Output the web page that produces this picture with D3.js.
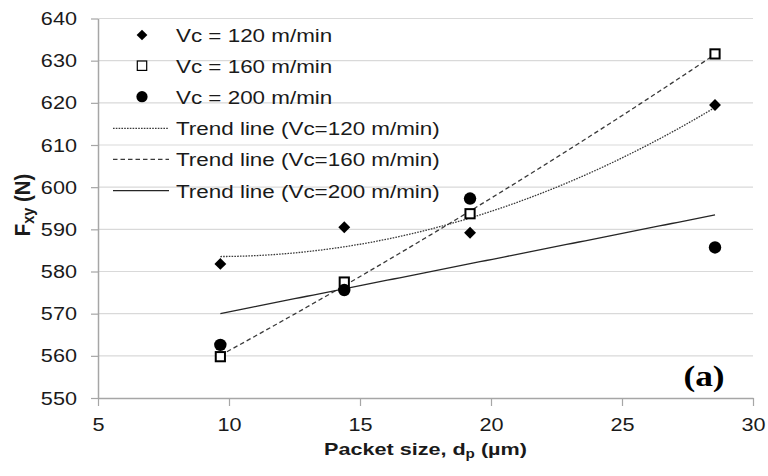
<!DOCTYPE html>
<html>
<head>
<meta charset="utf-8">
<script src="https://cdn.jsdelivr.net/npm/d3@7"></script>
<style>
  body { margin: 0; background: #fff; }
</style>
</head>
<body>
<div id="chart"></div>
<script>
// packet size (um) and cutting force Fxy (N)
var packetSize = [9.67, 14.4, 19.2, 28.55];
var fxy120 = [581.8, 590.5, 589.2, 619.5];
var fxy160 = [559.8, 577.5, 593.7, 631.6];
var fxy200 = [562.6, 575.6, 597.3, 585.7];

var xTicks = [5, 10, 15, 20, 25, 30];
var yTicks = [550, 560, 570, 580, 590, 600, 610, 620, 630, 640];

var seriesNames = ["Vc = 120 m/min", "Vc = 160 m/min", "Vc = 200 m/min"];
var trendNames = ["Trend line (Vc=120 m/min)", "Trend line (Vc=160 m/min)", "Trend line (Vc=200 m/min)"];
var trendOrder = [2, 2, 1];

var width = 768, height = 476;
var font = "'Liberation Sans', Arial, sans-serif";
var textStretch = 1.14;

var svg = d3.select("#chart").append("svg")
    .attr("width", width)
    .attr("height", height);

var x = d3.scaleLinear().domain([5, 30]).range([98, 753]);
var y = d3.scaleLinear().domain([550, 640]).range([398, 18.5]);

//------------------------------helpers--------------------------
// least squares polynomial fit, returns coefficients c0..cn
function polyFit(xs, ys, order) {
    var n = order + 1, A = [], i, j, k;
    for(i = 0; i < n; i++) {
        A.push([]);
        for(j = 0; j <= n; j++) A[i].push(0);
    }
    xs.forEach(function(xv, p) {
        for(i = 0; i < n; i++) {
            for(j = 0; j < n; j++) A[i][j] += Math.pow(xv, i + j);
            A[i][n] += Math.pow(xv, i) * ys[p];
        }
    });
    for(i = 0; i < n; i++) {
        for(k = i + 1; k < n; k++) {
            var f = A[k][i] / A[i][i];
            for(j = i; j <= n; j++) A[k][j] -= f * A[i][j];
        }
    }
    var c = new Array(n);
    for(i = n - 1; i >= 0; i--) {
        var s = A[i][n];
        for(j = i + 1; j < n; j++) s -= A[i][j] * c[j];
        c[i] = s / A[i][i];
    }
    return c;
}

function polyVal(c, xv) {
    var s = 0;
    for(var i = 0; i < c.length; i++) s += c[i] * Math.pow(xv, i);
    return s;
}

// the picture's text is a bit wider than plain Arial
function stretch(sel, k) {
    sel.each(function() {
        var t = d3.select(this);
        var tx = +t.attr("x") || 0, ty = +t.attr("y") || 0;
        t.attr("x", 0).attr("y", 0)
            .attr("transform", "translate(" + tx + "," + ty + ") scale(" + k + ",1)");
    });
}

//------------------------------grid + axes--------------------------
svg.append("g").selectAll("line")
    .data(yTicks.slice(1))
    .enter().append("line")
    .attr("x1", x(5)).attr("x2", x(30))
    .attr("y1", function(d) { return y(d); })
    .attr("y2", function(d) { return y(d); })
    .attr("stroke", "#d9d9d9")
    .attr("stroke-width", 1.2);

var gy = svg.append("g")
    .attr("transform", "translate(" + x(5) + ",0)")
    .call(d3.axisLeft(y).tickValues(yTicks).tickSize(7).tickPadding(14).tickSizeOuter(0));

var gx = svg.append("g")
    .attr("transform", "translate(0," + y(550) + ")")
    .call(d3.axisBottom(x).tickValues(xTicks).tickSize(8).tickPadding(12).tickSizeOuter(0));

[gx, gy].forEach(function(g) {
    g.select(".domain").attr("stroke", "#a6a6a6").attr("stroke-width", 1.5);
    g.selectAll(".tick line").attr("stroke", "#a6a6a6").attr("stroke-width", 1.2);
    g.selectAll(".tick text")
        .attr("fill", "#1a1a1a")
        .attr("font-family", font)
        .attr("font-size", "19px");
    stretch(g.selectAll(".tick text"), textStretch);
});

// axis titles
var xTitle = svg.append("text")
    .attr("x", 425.5)
    .attr("y", 455)
    .attr("text-anchor", "middle")
    .attr("font-family", font)
    .attr("font-weight", "bold")
    .attr("font-size", "17px")
    .attr("fill", "#1a1a1a");
xTitle.append("tspan").text("Packet size, d");
xTitle.append("tspan").attr("font-size", "12px").attr("dy", 3).text("p");
xTitle.append("tspan").attr("dy", -3).text(" (\u00b5m)");
stretch(xTitle, 1.27);

var yTitle = svg.append("text")
    .attr("text-anchor", "middle")
    .attr("font-family", font)
    .attr("font-weight", "bold")
    .attr("font-size", "17px")
    .attr("fill", "#1a1a1a")
    .attr("transform", "translate(30,205) rotate(-90) scale(1.2,1.3)");
yTitle.append("tspan").text("F");
yTitle.append("tspan").attr("font-size", "12px").attr("dy", 3).text("xy");
yTitle.append("tspan").attr("dy", -3).text(" (N)");

//------------------------------trend lines--------------------------
var allY = [fxy120, fxy160, fxy200];
var dashes = ["1.6,1.2", "4.5,3", null];
var trendColor = ["#3a3a3a", "#3a3a3a", "#262626"];
var xMin = d3.min(packetSize), xMax = d3.max(packetSize);
var line = d3.line()
    .x(function(d) { return x(d[0]); })
    .y(function(d) { return y(d[1]); });

allY.forEach(function(ys, s) {
    var coef = polyFit(packetSize, ys, trendOrder[s]);
    var pts = d3.range(0, 81).map(function(i) {
        var xv = xMin + (xMax - xMin) * i / 80;
        return [xv, polyVal(coef, xv)];
    });
    svg.append("path")
        .attr("d", line(pts))
        .attr("fill", "none")
        .attr("stroke", trendColor[s])
        .attr("stroke-width", 1.3)
        .attr("stroke-dasharray", dashes[s]);
});

//------------------------------markers--------------------------
function drawMarker(g, kind, cx, cy, big) {
    if(kind == 0) {
        var a = big ? 8.4 : 7.6;
        g.append("rect")
            .attr("x", -a / 2).attr("y", -a / 2)
            .attr("width", a).attr("height", a)
            .attr("fill", "#000")
            .attr("transform", "translate(" + cx + "," + cy + ") rotate(45)");
    } else if(kind == 1) {
        var b = big ? 9.2 : 9.4;
        g.append("rect")
            .attr("x", cx - b / 2).attr("y", cy - b / 2)
            .attr("width", b).attr("height", b)
            .attr("fill", "#fff")
            .attr("stroke", "#000")
            .attr("stroke-width", big ? 2 : 1.2);
    } else {
        g.append("circle")
            .attr("cx", cx).attr("cy", cy)
            .attr("r", big ? 6.2 : 5.6)
            .attr("fill", "#000");
    }
}

var gm = svg.append("g");
allY.forEach(function(ys, s) {
    packetSize.forEach(function(xv, i) {
        drawMarker(gm, s, x(xv), y(ys[i]), true);
    });
});

//------------------------------legend--------------------------
var legendRows = [35, 65.7, 96.7, 128.3, 159.3, 190.7];
var gl = svg.append("g");
seriesNames.forEach(function(name, i) {
    drawMarker(gl, i, 142, legendRows[i], false);
});
trendNames.forEach(function(name, i) {
    gl.append("line")
        .attr("x1", 113).attr("x2", 169)
        .attr("y1", legendRows[i + 3]).attr("y2", legendRows[i + 3])
        .attr("stroke", trendColor[i])
        .attr("stroke-width", 1.3)
        .attr("stroke-dasharray", dashes[i]);
});
var legendText = gl.selectAll("text.lg")
    .data(seriesNames.concat(trendNames))
    .enter().append("text")
    .attr("class", "lg")
    .attr("x", 176)
    .attr("y", function(d, i) { return legendRows[i] + 6.8; })
    .attr("font-family", font)
    .attr("font-size", "19px")
    .attr("fill", "#1a1a1a")
    .text(function(d) { return d; });
stretch(legendText, 1.18);

// panel tag
var tag = svg.append("text")
    .attr("x", 704)
    .attr("y", 386)
    .attr("text-anchor", "middle")
    .attr("font-family", "'Liberation Serif', 'Times New Roman', serif")
    .attr("font-weight", "bold")
    .attr("font-size", "29px")
    .attr("fill", "#000")
    .text("(a)");
stretch(tag, 1.22);
</script>
</body>
</html>
